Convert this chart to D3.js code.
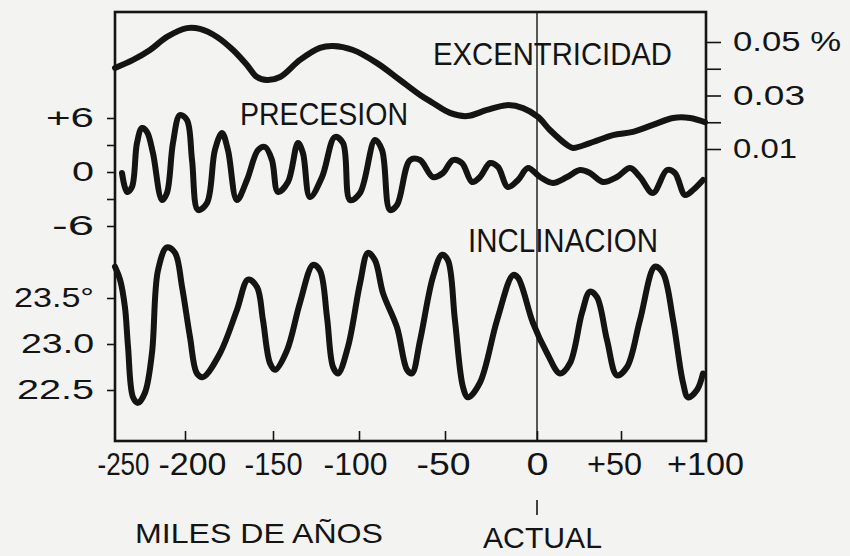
<!DOCTYPE html>
<html>
<head>
<meta charset="utf-8">
<script src="https://cdn.jsdelivr.net/npm/d3@7"></script>
<style>
  html, body { margin: 0; padding: 0; background: #f3f3f1; }
  svg { display: block; }
</style>
</head>
<body>
<svg id="chart" width="850" height="556"></svg>
<script>
// Time, thousands of years (negative = past, 0 = present)
const timeTicks = [-250, -200, -150, -100, -50, 0, 50, 100];

// Orbital eccentricity (%)
const eccTime = [-250, -237.1, -225.0, -212.9, -198.9, -191.5, -181.8, -172.7, -164.8, -159.1, -153.4, -145.9,
  -134.3, -122.7, -115.1, -103.5, -89.5, -76.2, -64.5, -57.0, -47.3, -38.0, -27.2, -16.3, -7.6, 0.6, 7.7,
  17.9, 21.4, 31.5, 45.2, 57.1, 69.0, 81.0, 91.1, 100];
const eccValue = [0.0403, 0.0433, 0.0470, 0.0519, 0.0552, 0.0549, 0.0519, 0.0470, 0.0414, 0.0369, 0.0358, 0.0369,
  0.0433, 0.0478, 0.0485, 0.0470, 0.0421, 0.0358, 0.0302, 0.0272, 0.0235, 0.0223, 0.0246, 0.0264, 0.0253, 0.0220, 0.0171,
  0.0115, 0.0104, 0.0122, 0.0152, 0.0164, 0.0190, 0.0216, 0.0216, 0.0200];
const eccTicks = [0.01, 0.02, 0.03, 0.04, 0.05];
const eccTickLabels = { 0.01: "0.01", 0.03: "0.03", 0.05: "0.05 %" };

// Precession index
const precTime = [-245.0, -241.4, -237.9, -234.3, -230.7, -227.1, -222.9, -216.4, -212.9, -208.6, -203.6, -198.9,
  -196.0, -192.6, -187.5, -183.0, -179.0, -175.6, -170.5, -164.8, -158.5, -154.5, -150.6, -147.1, -141.3, -135.5,
  -132.6, -128.5, -121.5, -114.0, -109.3, -105.2, -99.4, -90.7, -86.6, -82.0, -77.9, -70.3, -64.5, -57.0, -51.2,
  -45.7, -40.8, -35.3, -31.0, -25.5, -21.2, -15.8, -10.3, -4.9, 1.8, 9.5, 17.9, 25.6, 31.5, 39.3, 47.6, 55.4,
  61.3, 69.0, 77.4, 82.1, 88.1, 92.9, 98.8];
const precValue = [-0.11, -2.22, -1.67, 3.22, 4.89, 4.44, 2.11, -3.11, -2.33, 3.22, 6.33, 5.78,
  1.33, -4.22, -3.44, 2.44, 4.33, 2.44, -3.11, -0.89, 2.44, 2.78, 1.33, -2.22, -1.11, 3.22,
  2.11, -2.78, -0.56, 3.89, 3.22, -3.11, -2.33, 3.56, 2.44, -4.22, -3.67, 1.33, 1.33, -0.56, -0.11,
  1.33, 1.00, -1.11, -0.56, 1.00, 0.56, -1.67, -0.89, 0.44, -0.56, -1.22, -0.56, 0.22, -0.11, -1.11, -0.56, 0.44,
  -0.56, -2.33, 0.22, -0.11, -2.56, -2.00, -0.89];
const precTicks = [-6, -3, 0, 3, 6];
const precTickLabels = { "-6": "-6", "0": "0", "6": "+6" };

// Obliquity of the ecliptic (degrees)
const oblTime = [-250, -246.4, -242.9, -240.7, -237.1, -233.6, -228.6, -223.6, -219.3, -212.9, -207.1, -202.1,
  -197.2, -193.2, -189.8, -180.1, -170.5, -164.2, -159.1, -155.7, -151.7, -148.8, -141.9, -134.3, -126.7, -122.7,
  -118.6, -115.1, -112.2, -106.4, -99.4, -94.8, -90.7, -86.0, -77.9, -72.1, -69.2, -64.5, -57.0, -51.7, -48.4,
  -44.6, -40.2, -37.5, -31.0, -21.7, -13.0, -10.3, -2.2, 6.0, 13.7, 19.6, 26.8, 31.5, 35.7, 41.7, 47.6, 53.6,
  61.3, 70.2, 75.0, 81.0, 86.9, 89.9, 95.2, 98.8];
const oblValue = [23.84, 23.70, 23.40, 22.97, 22.42, 22.36, 22.47, 22.90, 23.80, 24.05, 23.99, 23.62,
  23.08, 22.68, 22.64, 22.90, 23.37, 23.70, 23.62, 23.26, 22.79, 22.72, 22.93, 23.45, 23.86, 23.80,
  23.29, 22.75, 22.68, 22.97, 23.66, 23.99, 23.91, 23.55, 23.18, 22.72, 22.68, 23.04, 23.73, 23.97, 23.91,
  23.26, 22.53, 22.42, 22.58, 23.26, 23.75, 23.72, 23.23, 22.90, 22.68, 22.79, 23.34, 23.57, 23.51, 23.04, 22.66, 22.75,
  23.26, 23.84, 23.77, 23.26, 22.58, 22.42, 22.50, 22.68];
const oblTicks = [22.5, 23.0, 23.5];
const oblTickLabels = { 22.5: "22.5", 23: "23.0", 23.5: "23.5°" };

const timeTickLabel = d => d > 0 ? "+" + d : (d === 0 ? "0" : "-" + Math.abs(d));

// Hand-lettered look: each label is stretched to its lettered width
const labelWidth = {
  "-250": 52, "-200": 68, "-150": 58, "-100": 64, "-50": 54, "0": 22, "+50": 55, "+100": 77,
  "+6": 48, "-6": 42, "22.5": 77, "23.0": 73, "23.5°": 80,
  "0.01": 64, "0.03": 72, "0.05 %": 108
};
// Lettering sits a little off some of the time ticks
const timeLabelShift = { "-250": 8, "-200": 7, "-100": -4, "-50": -2, "+50": -7 };

const INK = "#141414";
const FONT = "'Liberation Sans', Arial, sans-serif";

const svg = d3.select("#chart");
const frame = { left: 115, right: 706, top: 12, bottom: 441 };

// Horizontal time scale (hand-ruled, so spacing between ticks varies slightly)
const x = d3.scaleLinear()
  .domain(timeTicks)
  .range([115, 185, 273, 359, 445, 537, 621, 705]);

const yEcc = d3.scaleLinear().domain([0.01, 0.05]).range([149, 42]);
const yPrec = d3.scaleLinear().domain([-6, 6]).range([226, 118]);
const yObl = d3.scaleLinear().domain([22.5, 23.5]).range([390, 298]);

// Frame
svg.append("rect")
  .attr("x", frame.left).attr("y", frame.top)
  .attr("width", frame.right - frame.left).attr("height", frame.bottom - frame.top)
  .attr("fill", "none").attr("stroke", INK).attr("stroke-width", 2.6);

// Present-day line
svg.append("line")
  .attr("x1", x(0)).attr("x2", x(0))
  .attr("y1", frame.top).attr("y2", frame.bottom)
  .attr("stroke", INK).attr("stroke-width", 1.4);

function styleAxis(g, size) {
  g.select(".domain").remove();
  g.selectAll(".tick line").attr("stroke", INK).attr("stroke-width", 1.6);
  g.selectAll(".tick text")
    .attr("fill", INK)
    .attr("font-family", FONT)
    .attr("font-size", size)
    .each(function () {
      const t = d3.select(this).text();
      if (labelWidth[t]) {
        d3.select(this).attr("textLength", labelWidth[t]).attr("lengthAdjust", "spacingAndGlyphs");
      }
    });
}

// Time axis (ticks point inward)
const gx = svg.append("g")
  .attr("transform", `translate(0,${frame.bottom})`)
  .call(d3.axisBottom(x).tickValues(timeTicks).tickSizeInner(-10).tickSizeOuter(0).tickFormat(timeTickLabel));
gx.selectAll(".tick text")
  .attr("y", 34).attr("dy", 0)
  .attr("x", function () { return timeLabelShift[d3.select(this).text()] || 0; });
styleAxis(gx, 32);
gx.selectAll(".tick").filter(d => d === -250 || d === 100).select("line").remove();

// Precession axis
const gPrec = svg.append("g")
  .attr("transform", `translate(${frame.left},0)`)
  .call(d3.axisLeft(yPrec).tickValues(precTicks).tickSizeInner(8).tickSizeOuter(0)
    .tickPadding(13).tickFormat(d => precTickLabels[d] || ""));
styleAxis(gPrec, 27);

// Obliquity axis
const gObl = svg.append("g")
  .attr("transform", `translate(${frame.left},0)`)
  .call(d3.axisLeft(yObl).tickValues(oblTicks).tickSizeInner(8).tickSizeOuter(0)
    .tickPadding(13).tickFormat(d => oblTickLabels[d] || ""));
styleAxis(gObl, 27);

// Eccentricity axis (right)
const gEcc = svg.append("g")
  .attr("transform", `translate(${frame.right},0)`)
  .call(d3.axisRight(yEcc).tickValues(eccTicks).tickSizeInner(15).tickSizeOuter(0)
    .tickPadding(12).tickFormat(d => eccTickLabels[d] || ""));
styleAxis(gEcc, 28);

// Curves
const curve = d3.curveCatmullRom.alpha(0.5);
function drawSeries(times, values, yScale) {
  const pts = times.map((t, i) => [t, values[i]]);
  svg.append("path")
    .datum(pts)
    .attr("fill", "none")
    .attr("stroke", INK)
    .attr("stroke-width", 6)
    .attr("stroke-linecap", "round")
    .attr("stroke-linejoin", "round")
    .attr("d", d3.line().x(d => x(d[0])).y(d => yScale(d[1])).curve(curve));
}
drawSeries(eccTime, eccValue, yEcc);
drawSeries(precTime, precValue, yPrec);
drawSeries(oblTime, oblValue, yObl);

// Series names and axis captions
function label(text, x0, baseline, size, width) {
  svg.append("text")
    .attr("x", x0).attr("y", baseline)
    .attr("font-family", FONT).attr("font-size", size)
    .attr("fill", INK)
    .attr("textLength", width).attr("lengthAdjust", "spacingAndGlyphs")
    .text(text);
}
label("EXCENTRICIDAD", 433, 65, 31, 239);
label("PRECESION", 240, 125, 32, 168);
label("INCLINACION", 468, 252, 34, 190);
label("MILES DE AÑOS", 135, 543, 28, 248);
label("ACTUAL", 483, 548, 29, 119);

// Marker pointing from the time axis to the "present" caption
svg.append("line")
  .attr("x1", x(0)).attr("x2", x(0))
  .attr("y1", 500).attr("y2", 515)
  .attr("stroke", INK).attr("stroke-width", 1.6);
</script>
</body>
</html>
